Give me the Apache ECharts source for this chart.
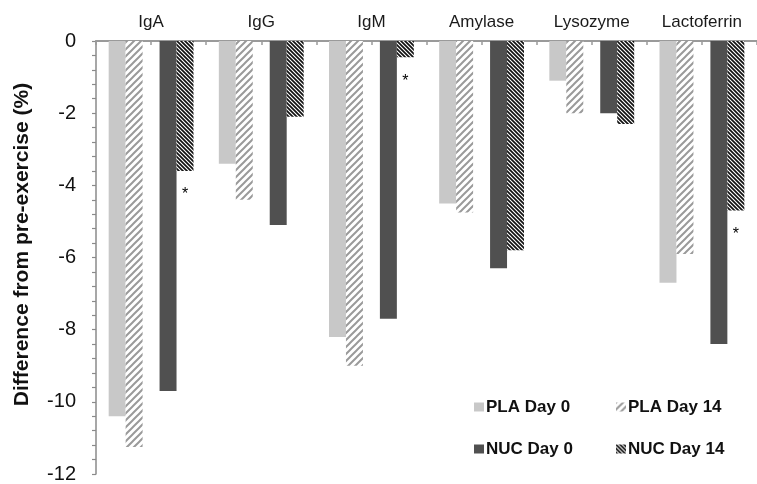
<!DOCTYPE html>
<html>
<head>
<meta charset="utf-8">
<script src="https://cdn.jsdelivr.net/npm/echarts@6/dist/echarts.min.js"></script>
<style>
html,body{margin:0;padding:0;background:#fff;}
#chart{width:757px;height:484px;}
</style>
</head>
<body>
<div id="chart"></div>
<script>
var categories = ['IgA', 'IgG', 'IgM', 'Amylase', 'Lysozyme', 'Lactoferrin'];
var plaDay0  = [-10.4, -3.4, -8.2, -4.5, -1.1, -6.7];
var plaDay14 = [-11.25, -4.4, -9.0, -4.75, -2.0, -5.9];
var nucDay0  = [-9.7, -5.1, -7.7, -6.3, -2.0, -8.4];
var nucDay14 = [-3.6, -2.1, -0.45, -5.8, -2.3, -4.7];
var nucDay14Sig = [true, false, true, false, false, true];
var yTicks = [0, -2, -4, -6, -8, -10, -12];

function makePattern(size, bg, fg, lw, dir) {
  var c = document.createElement('canvas');
  c.width = size; c.height = size;
  var ctx = c.getContext('2d');
  ctx.fillStyle = bg; ctx.fillRect(0, 0, size, size);
  ctx.strokeStyle = fg; ctx.lineWidth = lw;
  ctx.beginPath();
  if (dir === '/') {
    ctx.moveTo(-1, size + 1); ctx.lineTo(size + 1, -1);
    ctx.moveTo(-1, 1); ctx.lineTo(1, -1);
    ctx.moveTo(size - 1, size + 1); ctx.lineTo(size + 1, size - 1);
  } else {
    ctx.moveTo(-1, -1); ctx.lineTo(size + 1, size + 1);
    ctx.moveTo(size - 1, -1); ctx.lineTo(size + 1, 1);
    ctx.moveTo(-1, size - 1); ctx.lineTo(1, size + 1);
  }
  ctx.stroke();
  return { image: c, repeat: 'repeat' };
}

var plaStripe = makePattern(7, '#ffffff', '#9a9a9a', 2, '/');
var nucStripe = makePattern(4, '#ffffff', '#111111', 1.7, '\\');

var chart = echarts.init(document.getElementById('chart'));
var font = 'Liberation Sans, Arial, sans-serif';

var nuc14Data = nucDay14.map(function (v, i) {
  return {
    value: v,
    label: {
      show: nucDay14Sig[i],
      position: 'bottom',
      distance: 16,
      formatter: '*',
      fontSize: 16,
      color: '#000',
      fontFamily: font
    }
  };
});

var legendText = { fontSize: 17, fontWeight: 'bold', color: '#111', fontFamily: font, lineHeight: 20, padding: [0, 0, 0, -3] };

chart.setOption({
  animation: false,
  backgroundColor: '#fff',
  grid: { left: 96, right: -5, top: 41, bottom: 8, containLabel: false },
  legend: [{
    data: ['PLA Day 0', 'NUC Day 0'],
    orient: 'vertical',
    left: 469, top: 392,
    itemWidth: 10, itemHeight: 9, itemGap: 22,
    icon: 'rect',
    textStyle: legendText
  }, {
    data: ['PLA Day 14', 'NUC Day 14'],
    orient: 'vertical',
    left: 611, top: 392,
    itemWidth: 10, itemHeight: 9, itemGap: 22,
    icon: 'rect',
    textStyle: legendText
  }],
  xAxis: [{
    type: 'category',
    data: categories,
    position: 'top',
    axisLine: { show: false },
    axisTick: { show: false },
    axisLabel: { fontSize: 17, color: '#1a1a1a', fontFamily: font, margin: 10 }
  }, {
    type: 'value',
    min: 0, max: 6, interval: 0.5,
    position: 'top',
    axisLine: { show: true, lineStyle: { color: '#9a9a9a', width: 2 } },
    axisTick: { show: true, inside: true, length: 4, lineStyle: { color: '#9a9a9a', width: 1.5 } },
    axisLabel: { show: false },
    splitLine: { show: false }
  }],
  yAxis: {
    type: 'value',
    min: -12, max: 0, interval: 2,
    name: 'Difference from pre-exercise (%)',
    nameLocation: 'middle',
    nameGap: 63,
    nameTextStyle: { fontSize: 21, fontWeight: 'bold', color: '#111', fontFamily: font, padding: [0, 0, 0, 26] },
    axisLine: { show: true, lineStyle: { color: '#8a8a8a', width: 1.5 } },
    axisTick: { show: true, length: 4, lineStyle: { color: '#8a8a8a', width: 1.2 } },
    minorTick: { show: true, splitNumber: 5, length: 4, lineStyle: { color: '#8a8a8a', width: 1.2 } },
    axisLabel: {
      fontSize: 20, color: '#111', fontFamily: font, margin: 20, padding: [4, 0, 0, 0],
      formatter: function (v) { return yTicks.indexOf(v) >= 0 ? String(v) : ''; }
    },
    splitLine: { show: false }
  },
  series: [
    { name: 'PLA Day 0', type: 'bar', data: plaDay0, barGap: '0%', barCategoryGap: '23%',
      itemStyle: { color: '#c8c8c8' } },
    { name: 'PLA Day 14', type: 'bar', data: plaDay14, barGap: '0%', barCategoryGap: '23%',
      itemStyle: { color: plaStripe } },
    { name: 'gap', type: 'bar', data: categories.map(function () { return '-'; }), barGap: '0%', barCategoryGap: '23%',
      itemStyle: { color: 'transparent' } },
    { name: 'NUC Day 0', type: 'bar', data: nucDay0, barGap: '0%', barCategoryGap: '23%',
      itemStyle: { color: '#505050' } },
    { name: 'NUC Day 14', type: 'bar', data: nuc14Data, barGap: '0%', barCategoryGap: '23%',
      itemStyle: { color: nucStripe } }
  ]
});
</script>
</body>
</html>
